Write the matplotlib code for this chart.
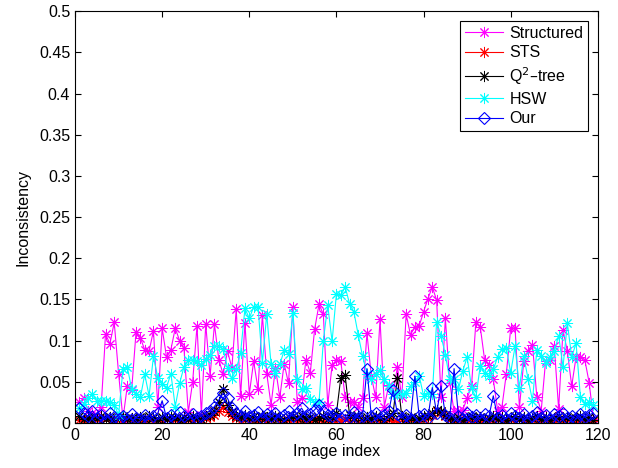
import numpy as np
import matplotlib
matplotlib.use("Agg")
import matplotlib.pyplot as plt

plt.rcParams['font.family'] = ['Liberation Sans', 'DejaVu Sans']

# Inconsistency per image for each method
structured = [0.025, 0.030, 0.015, 0.012, 0.010, 0.020, 0.108, 0.096, 0.122, 0.060,
              0.005, 0.045, 0.040, 0.110, 0.103, 0.089, 0.087, 0.112, 0.020, 0.115,
              0.080, 0.089, 0.115, 0.100, 0.091, 0.013, 0.050, 0.118, 0.010, 0.120,
              0.057, 0.120, 0.077, 0.059, 0.087, 0.067, 0.138, 0.033, 0.121, 0.035,
              0.075, 0.041, 0.131, 0.060, 0.022, 0.067, 0.031, 0.072, 0.048, 0.141,
              0.025, 0.030, 0.077, 0.061, 0.114, 0.144, 0.132, 0.022, 0.070, 0.076,
              0.075, 0.031, 0.025, 0.026, 0.020, 0.030, 0.109, 0.057, 0.031, 0.126,
              0.020, 0.046, 0.035, 0.068, 0.031, 0.132, 0.107, 0.117, 0.118, 0.135,
              0.151, 0.165, 0.149, 0.031, 0.127, 0.049, 0.014, 0.014, 0.016, 0.030,
              0.045, 0.122, 0.117, 0.077, 0.070, 0.053, 0.015, 0.020, 0.060, 0.115,
              0.115, 0.019, 0.075, 0.087, 0.095, 0.031, 0.015, 0.075, 0.076, 0.093,
              0.017, 0.113, 0.087, 0.045, 0.080, 0.080, 0.077, 0.049, 0.005]

sts = [0.004, 0.003, 0.005, 0.002, 0.004, 0.003, 0.006, 0.002, 0.003, 0.004,
       0.002, 0.005, 0.003, 0.004, 0.002, 0.003, 0.005, 0.002, 0.004, 0.003,
       0.005, 0.002, 0.004, 0.003, 0.002, 0.004, 0.003, 0.005, 0.004, 0.006,
       0.007, 0.010, 0.014, 0.020, 0.013, 0.009, 0.006, 0.004, 0.005, 0.003,
       0.004, 0.002, 0.005, 0.003, 0.004, 0.006, 0.003, 0.002, 0.004, 0.005,
       0.003, 0.004, 0.002, 0.003, 0.005, 0.004, 0.002, 0.003, 0.004, 0.002,
       0.003, 0.005, 0.002, 0.004, 0.003, 0.002, 0.004, 0.003, 0.005, 0.002,
       0.003, 0.004, 0.002, 0.003, 0.005, 0.003, 0.004, 0.002, 0.003, 0.005,
       0.006, 0.010, 0.015, 0.013, 0.008, 0.005, 0.003, 0.004, 0.002, 0.003,
       0.004, 0.002, 0.003, 0.005, 0.003, 0.002, 0.004, 0.003, 0.002, 0.004,
       0.003, 0.005, 0.002, 0.003, 0.004, 0.002, 0.003, 0.004, 0.002, 0.003,
       0.005, 0.002, 0.004, 0.003, 0.002, 0.004, 0.003, 0.002, 0.003]

q2tree = [0.008, 0.005, 0.007, 0.004, 0.006, 0.009, 0.005, 0.007, 0.004, 0.006,
          0.008, 0.005, 0.006, 0.004, 0.007, 0.005, 0.008, 0.006, 0.004, 0.007,
          0.005, 0.008, 0.006, 0.004, 0.007, 0.005, 0.009, 0.006, 0.005, 0.008,
          0.010, 0.015, 0.025, 0.041, 0.022, 0.013, 0.009, 0.007, 0.010, 0.006,
          0.008, 0.005, 0.009, 0.007, 0.005, 0.008, 0.006, 0.004, 0.007, 0.009,
          0.006, 0.008, 0.005, 0.007, 0.004, 0.006, 0.008, 0.005, 0.007, 0.012,
          0.055, 0.058, 0.010, 0.006, 0.008, 0.004, 0.007, 0.005, 0.009, 0.006,
          0.004, 0.008, 0.012, 0.055, 0.008, 0.005, 0.007, 0.004, 0.006, 0.008,
          0.009, 0.012, 0.016, 0.014, 0.010, 0.006, 0.005, 0.007, 0.004, 0.006,
          0.008, 0.005, 0.007, 0.004, 0.006, 0.009, 0.005, 0.007, 0.004, 0.006,
          0.008, 0.005, 0.007, 0.004, 0.006, 0.009, 0.005, 0.007, 0.004, 0.006,
          0.008, 0.005, 0.007, 0.004, 0.006, 0.009, 0.005, 0.007, 0.004]

hsw = [0.018, 0.023, 0.030, 0.035, 0.027, 0.027, 0.027, 0.026, 0.022, 0.010,
       0.065, 0.068, 0.041, 0.035, 0.031, 0.059, 0.033, 0.081, 0.055, 0.047,
       0.043, 0.060, 0.020, 0.048, 0.068, 0.076, 0.077, 0.075, 0.070, 0.078,
       0.083, 0.093, 0.093, 0.090, 0.067, 0.054, 0.065, 0.085, 0.139, 0.127,
       0.141, 0.141, 0.073, 0.132, 0.071, 0.061, 0.071, 0.088, 0.084, 0.133,
       0.053, 0.041, 0.043, 0.029, 0.025, 0.025, 0.100, 0.143, 0.099, 0.157,
       0.155, 0.165, 0.145, 0.135, 0.107, 0.081, 0.060, 0.053, 0.059, 0.064,
       0.053, 0.045, 0.035, 0.035, 0.035, 0.037, 0.045, 0.050, 0.057, 0.033,
       0.037, 0.035, 0.123, 0.106, 0.083, 0.053, 0.053, 0.041, 0.063, 0.080,
       0.043, 0.031, 0.069, 0.061, 0.057, 0.065, 0.080, 0.090, 0.091, 0.061,
       0.093, 0.043, 0.081, 0.053, 0.027, 0.089, 0.081, 0.073, 0.080, 0.087,
       0.106, 0.068, 0.121, 0.080, 0.097, 0.031, 0.023, 0.025, 0.022]

our = [0.018, 0.012, 0.008, 0.015, 0.006, 0.010, 0.004, 0.012, 0.007, 0.005,
       0.009, 0.004, 0.011, 0.006, 0.005, 0.010, 0.004, 0.008, 0.012, 0.027,
       0.006, 0.010, 0.005, 0.013, 0.008, 0.004, 0.011, 0.006, 0.009, 0.012,
       0.015, 0.020, 0.028, 0.036, 0.030, 0.018, 0.012, 0.009, 0.014, 0.007,
       0.010, 0.013, 0.006, 0.011, 0.008, 0.012, 0.006, 0.010, 0.014, 0.008,
       0.012, 0.018, 0.009, 0.011, 0.016, 0.022, 0.015, 0.010, 0.008, 0.012,
       0.006, 0.010, 0.007, 0.013, 0.006, 0.009, 0.066, 0.008, 0.012, 0.005,
       0.010, 0.014, 0.040, 0.011, 0.006, 0.010, 0.005, 0.057, 0.008, 0.011,
       0.006, 0.043, 0.012, 0.045, 0.010, 0.006, 0.066, 0.009, 0.005, 0.012,
       0.007, 0.010, 0.005, 0.011, 0.008, 0.033, 0.006, 0.010, 0.005, 0.012,
       0.008, 0.006, 0.011, 0.005, 0.009, 0.013, 0.006, 0.010, 0.005, 0.011,
       0.008, 0.012, 0.006, 0.009, 0.005, 0.011, 0.007, 0.010, 0.012]

labels = ['Structured', 'STS', 'Q$^2$\u2013tree', 'HSW', 'Our']
colors = ['#ff00ff', '#ff0000', '#000000', '#00ffff', '#0000ff']

idx = np.arange(1, len(structured) + 1)

fig = plt.figure(figsize=(6.18, 4.68), dpi=100)
ax = fig.add_axes([0.1214, 0.0962, 0.846, 0.880])

fs = 11.5
asterisk = (8, 2, 0)
series = [structured, sts, q2tree, hsw]
for vals, lab, col in zip(series, labels[:4], colors[:4]):
    ax.plot(idx, vals, color=col, lw=0.8, marker=asterisk, ms=8, mew=0.7,
            label=lab)
ax.plot(idx, our, color=colors[4], lw=0.8, marker='D', ms=6, mew=0.8,
        mfc='none', label=labels[4])

ax.set_xlim(0, 120)
ax.set_ylim(0, 0.5)
ax.set_xticks(np.arange(0, 121, 20))
ax.set_yticks(np.arange(0, 0.51, 0.05))
ax.set_yticklabels(['0', '0.05', '0.1', '0.15', '0.2', '0.25', '0.3', '0.35',
                    '0.4', '0.45', '0.5'])
ax.tick_params(direction='in', top=True, right=True, labelsize=fs, length=4)
ax.set_xlabel('Image index', fontsize=fs, labelpad=1)
ax.set_ylabel('Inconsistency', fontsize=fs, labelpad=6)

leg = ax.legend(loc='upper right', fontsize=fs, fancybox=False,
                edgecolor='black', framealpha=1, borderaxespad=0.6,
                handlelength=2.4, labelspacing=0.3, borderpad=0.3,
                handletextpad=0.4)
leg.get_frame().set_linewidth(0.8)

fig.savefig('out.png', dpi=100)
